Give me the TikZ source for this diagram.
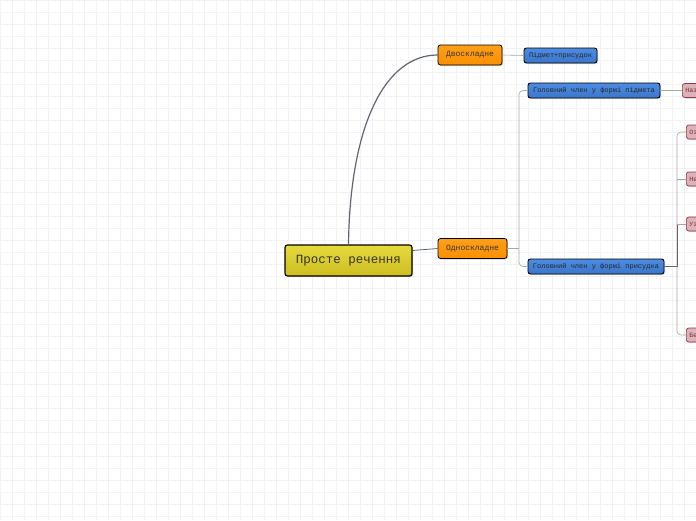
\documentclass[tikz,border=0pt]{standalone}
\usepackage{fontspec}
\setmonofont{Liberation Mono}
\usetikzlibrary{shadows}
\definecolor{gridc}{HTML}{F2F2F2}
\definecolor{rootA}{HTML}{E6DA3C}
\definecolor{rootB}{HTML}{CDBD22}
\definecolor{orgA}{HTML}{FFA01A}
\definecolor{orgB}{HTML}{FA8F00}
\definecolor{bluA}{HTML}{4D8CE0}
\definecolor{bluB}{HTML}{3A76CC}
\definecolor{pinkF}{HTML}{DDB2B8}
\definecolor{pinkD}{HTML}{8A3A48}
\definecolor{linec}{HTML}{A8A8A8}
\definecolor{darkl}{HTML}{5F6670}
\definecolor{txt}{HTML}{333333}
\tikzset{
  base/.style={draw=black, rounded corners=2.5pt, inner sep=0pt, font=\ttfamily, text=txt,
    drop shadow={shadow xshift=1pt, shadow yshift=-1pt, opacity=0.35}},
  rootbox/.style={base, line width=1.1pt, top color=rootA, bottom color=rootB,
    minimum width=127pt, minimum height=31pt, font=\ttfamily\fontsize{12.5}{12.5}\selectfont},
  orgbox/.style={base, line width=0.8pt, top color=orgA, bottom color=orgB,
    minimum height=20pt, font=\ttfamily\fontsize{8}{8}\selectfont},
  blubox/.style={base, line width=0.9pt, top color=bluA, bottom color=bluB, text=black!85,
    minimum height=15pt, font=\ttfamily\fontsize{7}{7}\selectfont},
  pinkbox/.style={base, draw=pinkD, line width=0.7pt, fill=pinkF, text=pinkD!80!black,
    minimum height=14pt, font=\ttfamily\fontsize{6.5}{6.5}\selectfont, anchor=west, inner xsep=3pt},
  conn/.style={draw=linec, line width=0.6pt},
  mainconn/.style={draw=darkl, line width=1.2pt},
}
\begin{document}
\begin{tikzpicture}[x=1pt,y=-1pt]
\useasboundingbox (0,0) rectangle (696,520);
\clip (0,0) rectangle (696,520);
\fill[white] (0,0) rectangle (696,520);
\draw[gridc, line width=0.4pt, step=12pt] (0,0) grid (696,520);

\node[rootbox] (root) at (348.5,260.5) {Просте речення};
\node[orgbox, minimum width=64pt] (dvo) at (470,55) {Двоскладне};
\node[blubox, minimum width=73pt] (pp) at (560.5,55.5) {Підмет+присудок};
\node[orgbox, minimum width=69pt] (odno) at (472.5,248.5) {Односкладне};
\node[blubox, minimum width=132pt] (gp) at (594,90.5) {Головний член у формі підмета};
\node[blubox, minimum width=136pt] (gpr) at (596,266.5) {Головний член у формі присудка};

\node[pinkbox] (nz) at (682,90.5) {Називні};
\node[pinkbox] (oz) at (686,132) {Означено-особові};
\node[pinkbox] (ne) at (686,179) {Неозначено-особові};
\node[pinkbox] (uz) at (686,224) {Узагальнено-особові};
\node[pinkbox] (be) at (686,335) {Безособові};

% connectors
\draw[mainconn] (root.north) .. controls (350,125) and (385,55) .. (dvo.west);
\draw[darkl, line width=0.8pt] (root.east) ++(0,-10) coordinate (re) -- (odno.west);
\draw[conn] (dvo.east) -- (pp.west);

\coordinate (oj) at (519,248.5);
\draw[conn] (odno.east) -- (oj);
\draw[conn, rounded corners=4pt] (gp.west) -- (519,90.5) -- (519,266.5) -- (gpr.west);

\draw[conn] (gp.east) -- (nz.west);

\coordinate (pj) at (677,266.5);
\draw[darkl, line width=0.8pt] (gpr.east) -- (pj);
\draw[conn, rounded corners=4pt] (oz.west) -- (677,132) -- (677,335) -- (be.west);
\draw[darkl, line width=0.8pt] (677,224) -- (677,266.5);
\draw[conn] (677,179) -- (ne.west);
\draw[conn] (677,224) -- (uz.west);
\end{tikzpicture}
\end{document}
